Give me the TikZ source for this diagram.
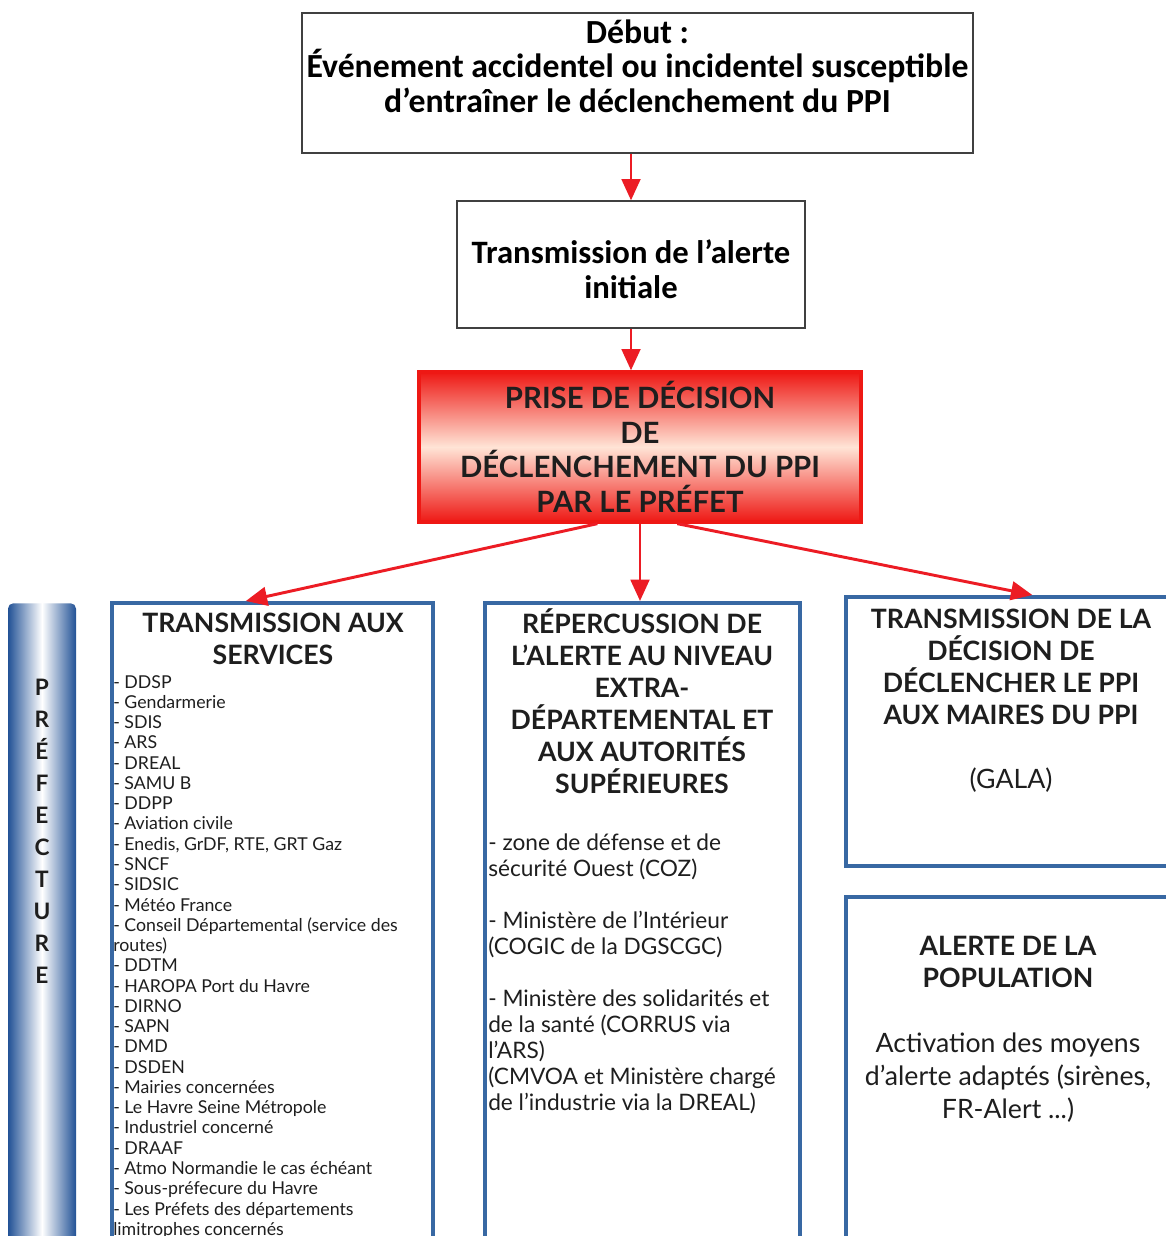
\documentclass[tikz,border=0pt]{standalone}
\usepackage{fontspec}
\setmainfont{Lato}
\newfontfamily\calibri{Carlito}
\usetikzlibrary{arrows.meta}

\definecolor{boxblue}{RGB}{56,104,163}
\definecolor{barblue}{RGB}{34,82,150}
\definecolor{arrowred}{RGB}{236,28,36}
\definecolor{declred}{RGB}{238,24,20}
\definecolor{declpale}{RGB}{255,228,214}
\definecolor{txtdark}{RGB}{30,30,30}

\begin{document}
\begin{tikzpicture}[x=0.75pt,y=-0.75pt,
    greybox/.style={draw=black!75, line width=1.2pt, fill=white, inner sep=0pt},
    bluebox/.style={draw=boxblue, line width=3pt, fill=white, inner sep=0pt},
    flow/.style={draw=arrowred, line width=2.2pt, -{Triangle[length=16pt,width=14pt]}},
    head/.style={align=center, inner sep=0pt, text=txtdark, font=\bfseries\fontsize{20}{24}\selectfont},
    items/.style={align=left, inner sep=0pt, anchor=north west, text=txtdark}]
  \useasboundingbox (0,0) rectangle (1166,1236);
  \clip (0,0) rectangle (1166,1236);
  \fill[white] (0,0) rectangle (1166,1236);

  % top of the chain
  \node[greybox, minimum width=503pt, minimum height=105pt] (debut) at (637.5,83) {};
  \node[align=center, inner sep=0pt, font=\calibri\bfseries\fontsize{25.3}{26}\selectfont] (debuttxt) at (637.5,66)
    {Début~:\\Événement accidentel ou incidentel susceptible\\d’entraîner le déclenchement du PPI};
  \node[greybox, minimum width=261pt, minimum height=95pt] (alerte) at (631,264.5) {};
  \node[align=center, inner sep=0pt, font=\calibri\bfseries\fontsize{24.5}{26}\selectfont] (alertetxt) at (631,269)
    {Transmission de l’alerte\\initiale};

  % decision du prefet
  \node[draw=declred, line width=2.5pt, top color=declred, bottom color=declred, middle color=declpale,
        minimum width=331.5pt, minimum height=112.5pt, align=center, text=txtdark,
        font=\bfseries\fontsize{22}{26}\selectfont] (decision) at (640,447)
    {PRISE DE DÉCISION\\DE\\DÉCLENCHEMENT DU PPI\\PAR LE PRÉFET};

  % colonnes du bas
  \node[draw=none, left color=barblue, right color=barblue, middle color=white, rounded corners=4pt,
        minimum width=51pt, minimum height=524pt, anchor=north] (prefecture) at (42,603) {};
  \node[align=center, inner sep=0pt, text=txtdark, font=\bfseries\fontsize{17}{24}\selectfont] (prefecturetxt) at (42,831.5)
    {P\\R\\É\\F\\E\\C\\T\\U\\R\\E};

  \node[bluebox, minimum width=240.75pt, minimum height=524pt, anchor=north] (services) at (272.5,601) {};
  \node[head] (servicestxt) at (273,639) {TRANSMISSION AUX\\SERVICES};
  \node[items, font=\fontsize{13.3}{15.2}\selectfont] (serviceslist) at (113,675)
    {- DDSP\\- Gendarmerie\\- SDIS\\- ARS\\- DREAL\\- SAMU B\\- DDPP\\- Aviation civile\\
     - Enedis, GrDF, RTE, GRT Gaz\\- SNCF\\- SIDSIC\\- Météo France\\
     - Conseil Départemental (service des\\routes)\\- DDTM\\- HAROPA Port du Havre\\- DIRNO\\
     - SAPN\\- DMD\\- DSDEN\\- Mairies concernées\\- Le Havre Seine Métropole\\
     - Industriel concerné\\- DRAAF\\- Atmo Normandie le cas échéant\\- Sous-préfecure du Havre\\
     - Les Préfets des départements\\limitrophes concernés};

  \node[bluebox, minimum width=236.25pt, minimum height=524pt, anchor=north] (extra) at (642.5,601) {};
  \node[head] (extratxt) at (642,701)
    {RÉPERCUSSION DE\\L’ALERTE AU NIVEAU\\EXTRA-\\DÉPARTEMENTAL ET\\AUX AUTORITÉS\\SUPÉRIEURES};
  \node[items, font=\fontsize{17}{19.5}\selectfont] (extralist) at (488,834)
    {- zone de défense et de\\sécurité Ouest (COZ)\\[19.5pt]
     - Ministère de l’Intérieur\\(COGIC de la DGSCGC)\\[19.5pt]
     - Ministère des solidarités et\\de la santé (CORRUS via\\l’ARS)\\
     (CMVOA et Ministère chargé\\de l’industrie via la DREAL)};

  \node[bluebox, minimum width=247.5pt, minimum height=201.75pt] (maires) at (1011,731.5) {};
  \node[align=center, inner sep=0pt, text=txtdark, font=\fontsize{20}{24}\selectfont] (mairestxt) at (1011,700.5)
    {\textbf{TRANSMISSION DE LA}\\\textbf{DÉCISION DE}\\\textbf{DÉCLENCHER LE PPI}\\\textbf{AUX MAIRES DU PPI}\\[24pt](GALA)};

  \node[bluebox, minimum width=247.5pt, minimum height=524pt, anchor=north] (population) at (1011,895) {};
  \node[align=center, inner sep=0pt, text=txtdark, font=\fontsize{20}{24.4}\selectfont] (populationtxt) at (1008,1029)
    {\textbf{ALERTE DE LA}\\\textbf{POPULATION}\\[24.4pt]Activation des moyens\\d’alerte adaptés (sirènes,\\FR-Alert ...)};

  % fleches
  \draw[flow] (debut.south -| alerte.north) -- (alerte.north);
  \draw[flow] (alerte.south) -- (alerte.south |- decision.north);
  \draw[flow] ([xshift=-32pt]decision.south) -- ([xshift=-20pt]services.north);
  \draw[flow] (decision.south) -- (decision.south |- extra.north);
  \draw[flow] ([xshift=28pt]decision.south) -- ([xshift=16pt]maires.north);
\end{tikzpicture}
\end{document}
